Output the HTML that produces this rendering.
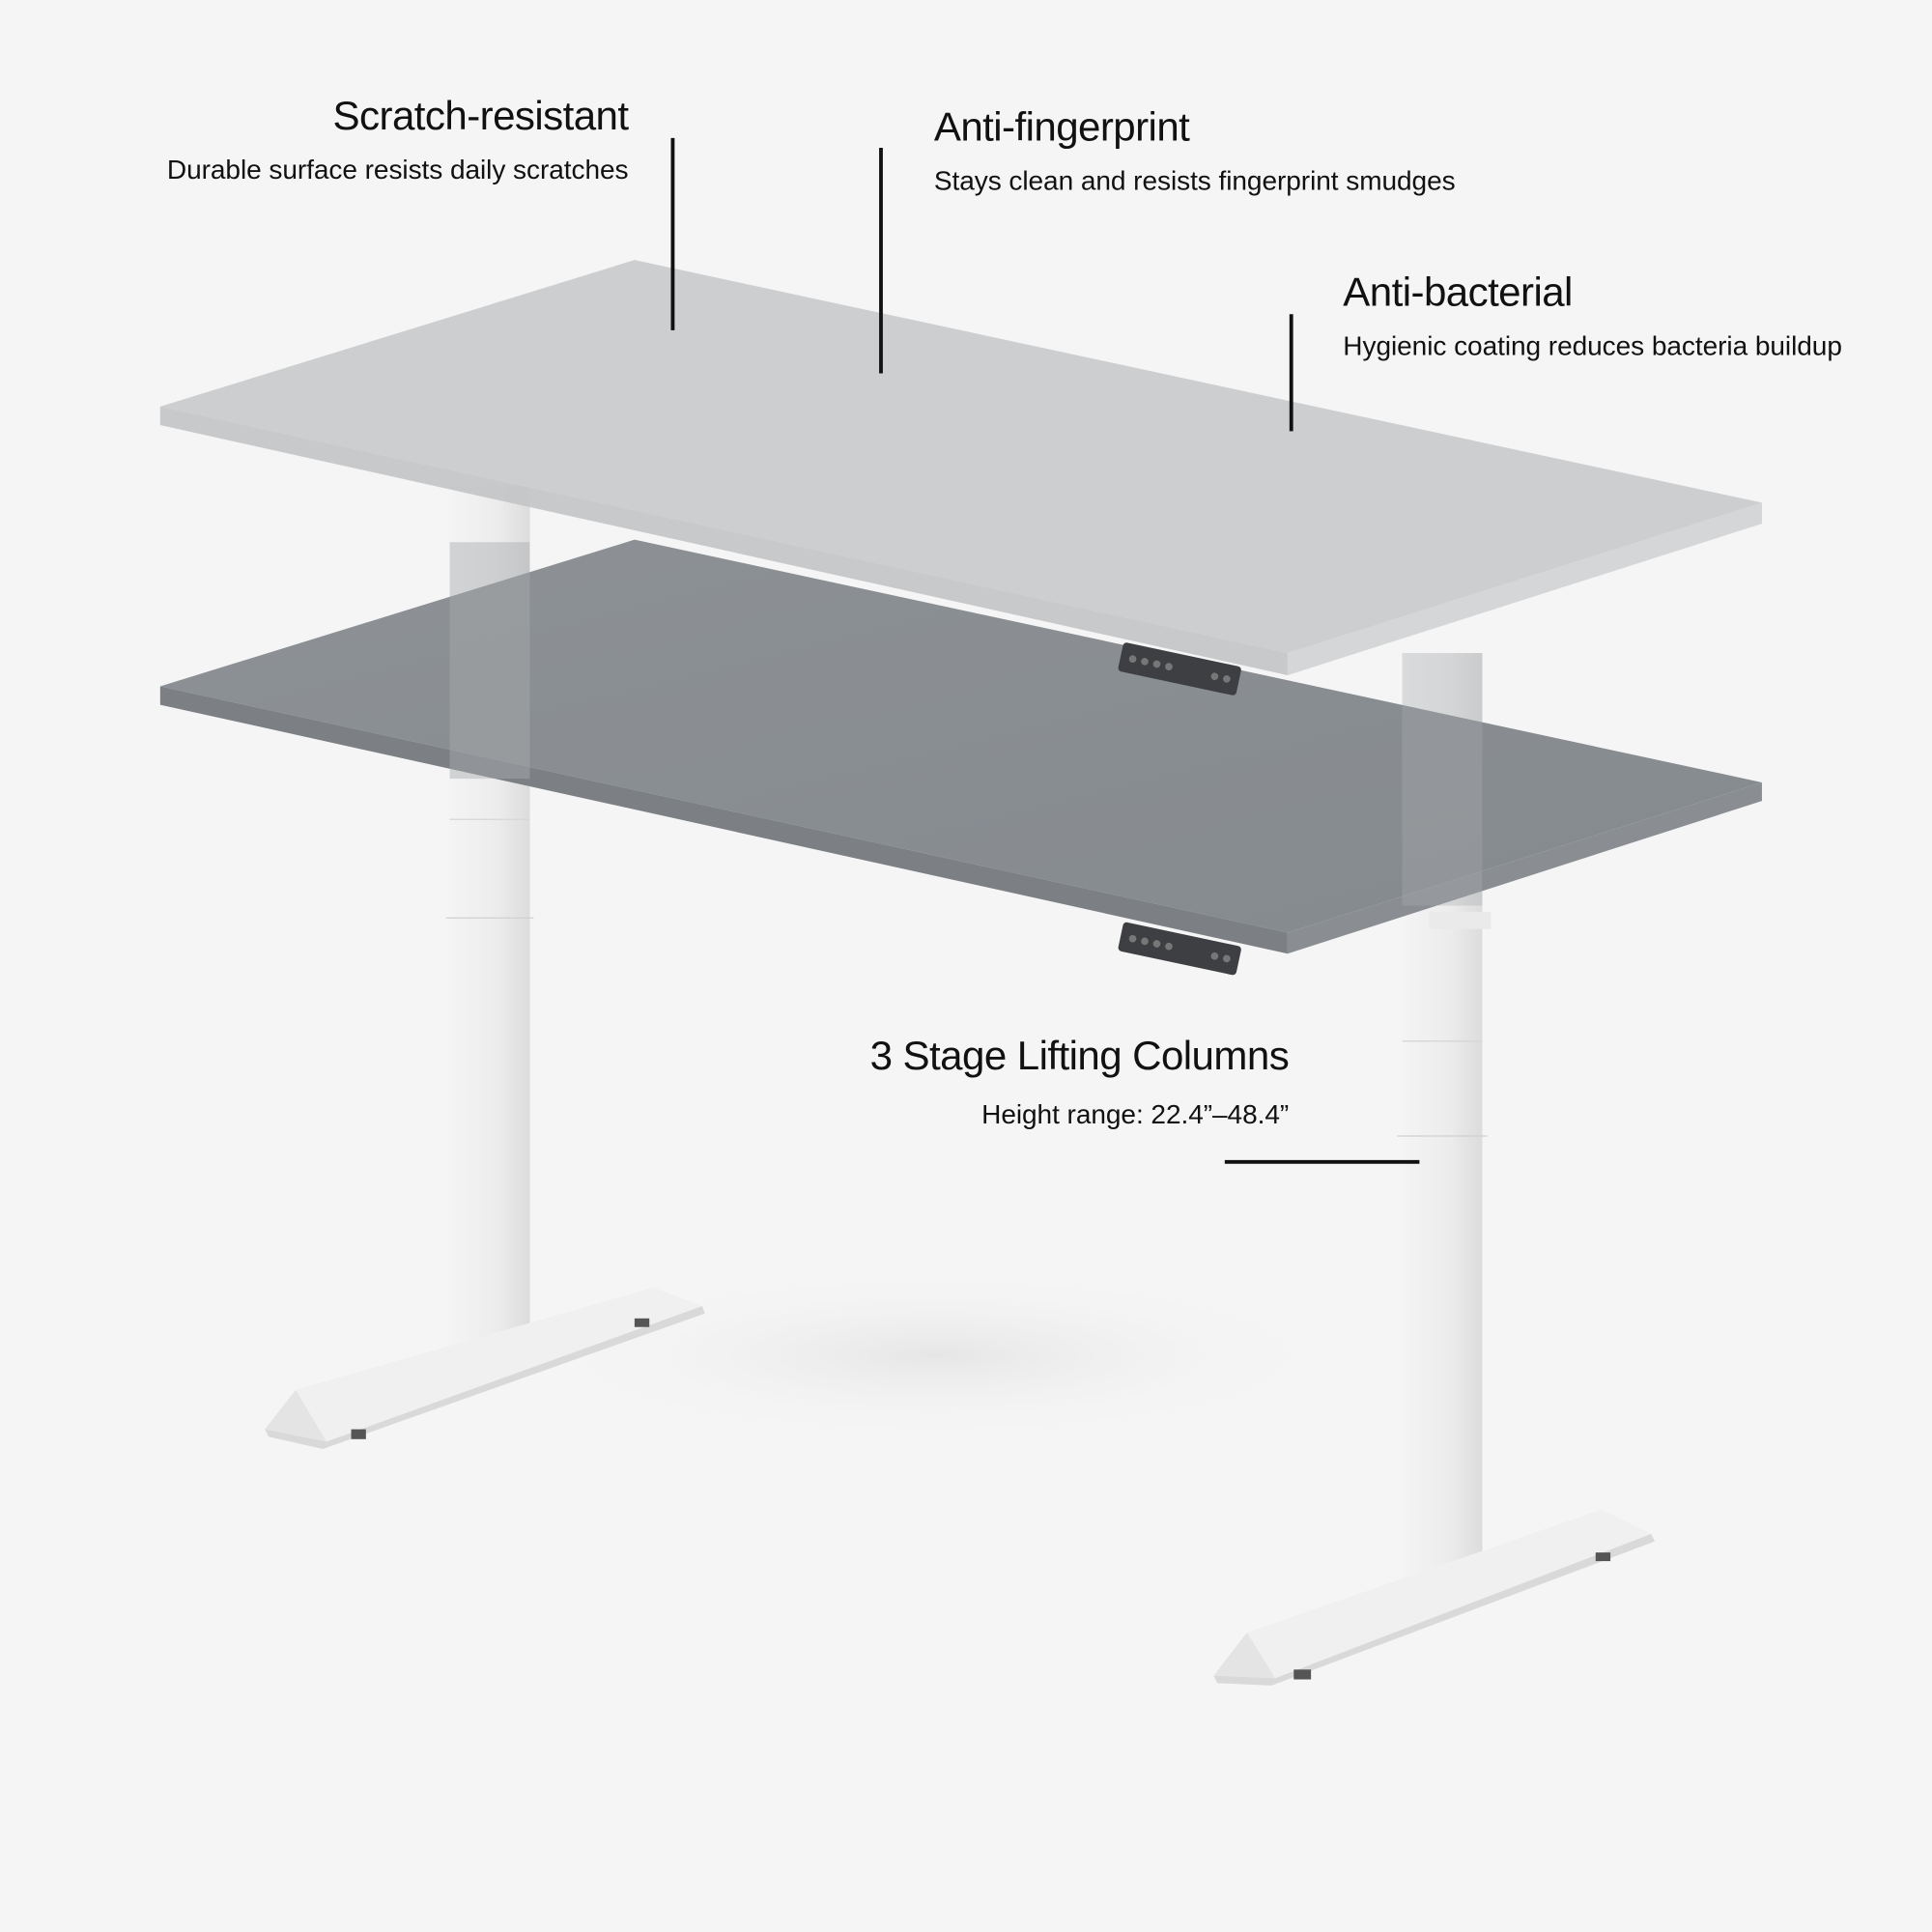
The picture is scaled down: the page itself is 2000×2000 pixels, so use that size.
<!DOCTYPE html>
<html><head><meta charset="utf-8"><style>
html,body{margin:0;padding:0;background:#f5f5f5}
svg{display:block}
text{font-family:"Liberation Sans",sans-serif;fill:#111}
</style></head><body>
<svg width="2000" height="2000" viewBox="0 0 1568 1568" xmlns="http://www.w3.org/2000/svg">
<defs>
<radialGradient id="sh" cx="0.5" cy="0.5" r="0.5">
<stop offset="0" stop-color="#e6e6e6"/><stop offset="1" stop-color="#f5f5f5" stop-opacity="0"/>
</radialGradient>
<linearGradient id="dk" x1="0" y1="0" x2="1" y2="1">
<stop offset="0" stop-color="#8d9195"/><stop offset="1" stop-color="#858a8f"/>
</linearGradient>
<linearGradient id="col" x1="0" y1="0" x2="1" y2="0">
<stop offset="0" stop-color="#f4f4f4"/><stop offset="0.6" stop-color="#ececec"/><stop offset="1" stop-color="#dcdcdc"/>
</linearGradient>
</defs>
<rect width="1568" height="1568" fill="#f5f5f5"/>
<ellipse cx="760" cy="1100" rx="330" ry="70" fill="url(#sh)"/>
<rect x="365" y="395" width="65" height="700" fill="url(#col)"/>
<line x1="365" y1="665" x2="430" y2="665" stroke="#d6d6d6"/>
<line x1="362" y1="745" x2="433" y2="745" stroke="#d0d0d0"/>
<polygon points="215,1160 240,1128 530,1045 570,1060 265,1170" fill="#f0f0f0"/>
<polygon points="240,1128 265,1170 215,1160" fill="#e4e4e4"/>
<polygon points="215,1160 265,1170 570,1060 572,1066 262,1176 218,1166" fill="#d9d9d9"/>
<rect x="285" y="1160" width="12" height="8" fill="#555"/>
<rect x="515" y="1070" width="12" height="7" fill="#555"/>
<rect x="1138" y="530" width="65" height="755" fill="url(#col)"/>
<line x1="1138" y1="845" x2="1203" y2="845" stroke="#d6d6d6"/>
<line x1="1134" y1="922" x2="1207" y2="922" stroke="#d0d0d0"/>
<polygon points="985,1360 1012,1325 1300,1225 1340,1245 1035,1362" fill="#f0f0f0"/>
<polygon points="1012,1325 1035,1362 985,1360" fill="#e4e4e4"/>
<polygon points="985,1360 1035,1362 1340,1245 1343,1251 1032,1368 988,1366" fill="#d9d9d9"/>
<rect x="1050" y="1355" width="14" height="8" fill="#555"/>
<rect x="1295" y="1260" width="12" height="7" fill="#555"/>
<polygon points="130,557 515,438 1430,635 1045,757" fill="url(#dk)"/>
<polygon points="130,557 1045,757 1045,774 130,572" fill="#7c8085"/>
<polygon points="1045,757 1430,635 1430,650 1045,774" fill="#8a8e93"/>
<rect x="365" y="440" width="65" height="192" fill="#a8abae" opacity="0.45"/>
<rect x="1138" y="530" width="65" height="205" fill="#a8abae" opacity="0.35"/>
<rect x="1160" y="740" width="50" height="14" fill="#eaeaea"/>
<g transform="translate(912,748) rotate(12)"><rect width="98" height="24" rx="3" fill="#3d3f42"/>
<g fill="#777"><circle cx="10" cy="12" r="3"/><circle cx="20" cy="12" r="3"/><circle cx="30" cy="12" r="3"/><circle cx="40" cy="12" r="3"/><circle cx="78" cy="12" r="3"/><circle cx="88" cy="12" r="3"/></g></g>
<polygon points="130,330 515,211 1430,408 1045,530" fill="#c8cacc" opacity="0.92"/>
<polygon points="130,330 1045,530 1045,548 130,345" fill="#c2c4c6" opacity="0.92"/>
<polygon points="1045,530 1430,408 1430,425 1045,548" fill="#d0d2d4" opacity="0.92"/>
<g transform="translate(912,521) rotate(12)"><rect width="98" height="24" rx="3" fill="#3d3f42"/>
<g fill="#777"><circle cx="10" cy="12" r="3"/><circle cx="20" cy="12" r="3"/><circle cx="30" cy="12" r="3"/><circle cx="40" cy="12" r="3"/><circle cx="78" cy="12" r="3"/><circle cx="88" cy="12" r="3"/></g></g>
<g stroke="#111" stroke-width="3">
<line x1="546" y1="112" x2="546" y2="268"/>
<line x1="715" y1="120" x2="715" y2="303"/>
<line x1="1048" y1="255" x2="1048" y2="350"/>
<line x1="994" y1="943" x2="1152" y2="943"/>
</g>
<text x="510" y="105" text-anchor="end" font-size="33" letter-spacing="-0.45">Scratch-resistant</text>
<text x="510" y="145" text-anchor="end" font-size="22" letter-spacing="-0.05">Durable surface resists daily scratches</text>
<text x="758" y="114" font-size="33" letter-spacing="-0.45">Anti-fingerprint</text>
<text x="758" y="154" font-size="22" letter-spacing="-0.05">Stays clean and resists fingerprint smudges</text>
<text x="1090" y="248" font-size="33" letter-spacing="-0.45">Anti-bacterial</text>
<text x="1090" y="288" font-size="22" letter-spacing="-0.05">Hygienic coating reduces bacteria buildup</text>
<text x="1046" y="868" text-anchor="end" font-size="33" letter-spacing="-0.45">3 Stage Lifting Columns</text>
<text x="1046" y="912" text-anchor="end" font-size="22" letter-spacing="-0.05">Height range: 22.4”–48.4”</text>
</svg>
</body></html>
